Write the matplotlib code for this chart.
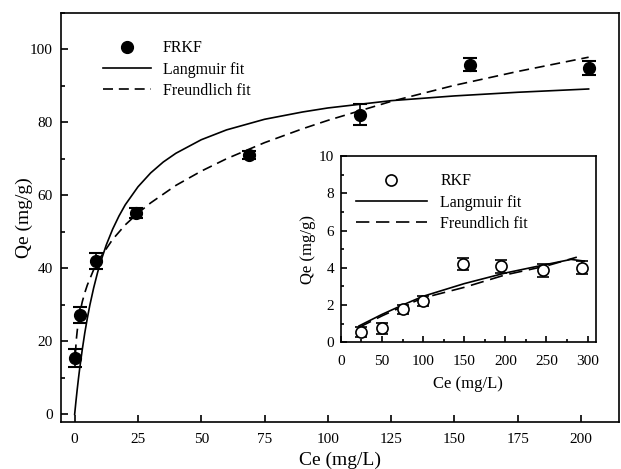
import matplotlib
matplotlib.use('Agg')
import matplotlib.pyplot as plt
from matplotlib.ticker import MultipleLocator

plt.rcParams['font.family'] = ['Liberation Serif', 'DejaVu Serif']
plt.rcParams['font.size'] = 11

# FRKF data (main plot)
frkf_ce = [0, 2.1, 8.6, 24.3, 69, 112.7, 156, 203]
frkf_qe = [15.5, 27.2, 42, 55.1, 71, 82.1, 95.8, 94.8]
frkf_err = [2.5, 2.2, 2.2, 1.4, 1.0, 3.0, 1.9, 2.0]

# fitted curves
lang_ce = [0, 0.5, 1, 1.5, 2, 3, 4, 5, 6, 7.5, 9, 10, 12.5, 15, 17.5, 20, 25, 30, 35,
           40, 50, 60, 75, 90, 100, 125, 150, 175, 203]
lang_qe = [0, 3.5, 6.75, 9.78, 12.6, 17.7, 22.3, 26.3, 29.9, 34.6, 38.7, 41.2, 46.4,
           50.7, 54.3, 57.4, 62.3, 66.1, 69.1, 71.5, 75.2, 77.9, 80.8, 82.8, 83.9,
           85.9, 87.2, 88.2, 89.1]
freu_ce = [0.3, 0.5, 0.75, 1, 1.5, 2, 3, 4, 5, 7.5, 10, 15, 20, 25, 30, 40, 50, 60,
           75, 90, 100, 125, 150, 175, 203]
freu_qe = [16.4, 18.9, 21.1, 22.8, 25.5, 27.6, 30.8, 33.3, 35.4, 39.6, 42.8, 47.9,
           51.9, 55.1, 57.9, 62.7, 66.6, 70.0, 74.4, 78.2, 80.5, 85.7, 90.1, 93.9, 97.8]

# RKF data (inset)
rkf_ce = [24, 49.5, 76, 99.5, 148, 195, 245.6, 293]
rkf_qe = [0.57, 0.76, 1.78, 2.22, 4.2, 4.09, 3.88, 4.0]
rkf_err = [0.26, 0.3, 0.24, 0.28, 0.3, 0.35, 0.35, 0.35]

rlang_ce = [22, 50, 75, 100, 150, 200, 250, 280, 296]
rlang_qe = [0.88, 1.5, 2.0, 2.47, 3.15, 3.72, 4.18, 4.45, 4.36]
rfreu_ce = [22, 50, 75, 100, 150, 200, 250, 287]
rfreu_qe = [0.8, 1.42, 1.92, 2.38, 2.95, 3.62, 4.1, 4.57]

fig = plt.figure(figsize=(6.21, 4.69), dpi=100)
ax = fig.add_axes([0.0982, 0.1002, 0.8986, 0.8728])

eb = ax.errorbar(frkf_ce, frkf_qe, yerr=frkf_err, fmt='o', color='black', ms=8.5,
                 capsize=5, elinewidth=1.2, capthick=1.5, zorder=3)
l1, = ax.plot(lang_ce, lang_qe, color='black', lw=1.2)
l2, = ax.plot(freu_ce, freu_qe, color='black', lw=1.2, dashes=(6, 3.5))

ax.set_xlim(-5.4, 215)
ax.set_ylim(-2.1, 110)
ax.xaxis.set_major_locator(MultipleLocator(25))
ax.yaxis.set_major_locator(MultipleLocator(20))
ax.yaxis.set_minor_locator(MultipleLocator(10))
ax.tick_params(direction='in', which='both', length=5, width=1.2, pad=6)
ax.tick_params(axis='x', pad=8)
ax.tick_params(which='minor', length=3)
for s in ax.spines.values():
    s.set_linewidth(1.2)
ax.set_xlabel('Ce (mg/L)', fontsize=14, labelpad=4)
ax.set_ylabel('Qe (mg/g)', fontsize=14, labelpad=-2)
ax.legend([eb.lines[0], l1, l2], ['FRKF', 'Langmuir fit', 'Freundlich fit'],
          loc='upper left', bbox_to_anchor=(0.061, 0.952), frameon=False, fontsize=11.5,
          handlelength=3.0, handletextpad=0.75, labelspacing=0.33, borderpad=0)

# inset
ins = fig.add_axes([0.549, 0.2701, 0.4103, 0.3973])
ieb = ins.errorbar(rkf_ce, rkf_qe, yerr=rkf_err, fmt='o', color='black', mfc='white',
                   ms=8, mew=1.2, capsize=4, elinewidth=1.2, capthick=1.5, zorder=3)
il1, = ins.plot(rlang_ce, rlang_qe, color='black', lw=1.2)
il2, = ins.plot(rfreu_ce, rfreu_qe, color='black', lw=1.2, dashes=(8, 4))
ins.set_xlim(0, 310)
ins.set_ylim(0, 10)
ins.xaxis.set_major_locator(MultipleLocator(50))
ins.xaxis.set_minor_locator(MultipleLocator(25))
ins.yaxis.set_major_locator(MultipleLocator(2))
ins.yaxis.set_minor_locator(MultipleLocator(1))
ins.tick_params(direction='in', which='both', length=4, width=1.2, pad=5)
ins.tick_params(axis='x', pad=9)
ins.tick_params(which='minor', length=2.5)
for s in ins.spines.values():
    s.set_linewidth(1.2)
ins.set_xlabel('Ce (mg/L)', fontsize=12, labelpad=6)
ins.set_ylabel('Qe (mg/g)', fontsize=12, labelpad=2)
ins.legend([ieb.lines[0], il1, il2], ['RKF', 'Langmuir fit', 'Freundlich fit'],
           loc='upper left', bbox_to_anchor=(0.026, 0.95), frameon=False, fontsize=11.5,
           handlelength=4.5, handletextpad=0.8, labelspacing=0.33, borderpad=0)

fig.savefig('out.png', dpi=100)
